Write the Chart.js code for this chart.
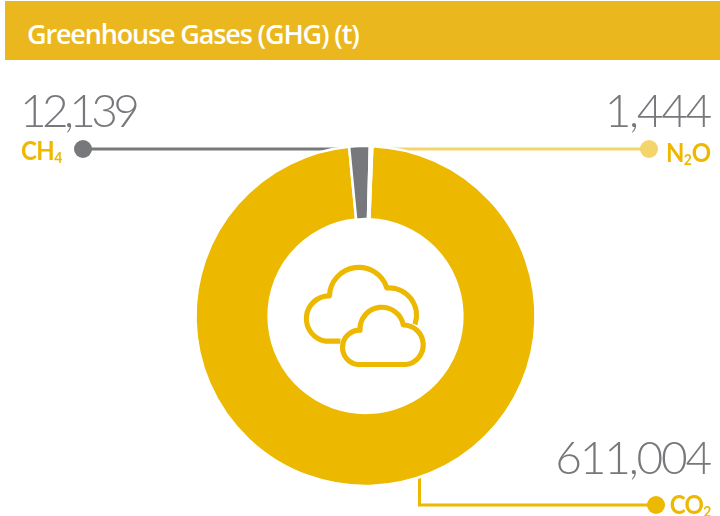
<!DOCTYPE html>
<html><head><meta charset="utf-8">
<script src="https://cdn.jsdelivr.net/npm/chart.js@4"></script>
<style>
html,body{margin:0;padding:0;background:#fff}
#wrap{position:relative;width:720px;height:516px;overflow:hidden;font-family:Lato,sans-serif}
#chart{position:absolute;left:0;top:0}
#bar{position:absolute;left:5px;top:1px;width:715px;height:59px;background:#ebb71e}
#title{position:absolute;left:27px;top:15px;color:#fff;font:600 27px/38px "Open Sans",sans-serif;letter-spacing:-1.15px;white-space:nowrap}
.num{position:absolute;color:#77787b;font:300 46px/50px Lato,sans-serif;white-space:nowrap}
.lab{position:absolute;color:#ecb800;font:700 26px/30px Lato,sans-serif;white-space:nowrap;letter-spacing:-.6px;transform:scaleX(.92);transform-origin:100% 50%}
.lab.l{transform-origin:0 50%}
.lab sub{font-size:15px;line-height:0;vertical-align:-3px;font-weight:700;letter-spacing:0}
svg{position:absolute;left:287px;top:246px}
</style></head><body>
<div id="wrap">
<div id="bar"></div><div id="title">Greenhouse Gases (GHG) (t)</div>
<canvas id="chart" width="720" height="516"></canvas>
<svg width="155" height="134" viewBox="0 0 450 390" fill="none" stroke="#ecb800" stroke-width="15" stroke-linejoin="round">
<path d="M155 277 H112 A66.4 66.4 0 0 1 123 145 A85.5 85.5 0 0 1 290 122 A80 80 0 0 1 372 228"/>
<path d="M345 345 H205 A50.2 50.2 0 0 1 212 245 A63.6 63.6 0 0 1 338 230 A57.7 57.7 0 0 1 345 345 Z"/>
</svg>
<div class="num" id="n0" style="right:10px;top:432px;letter-spacing:-2.2px"></div>
<div class="num" id="n1" style="left:20px;top:85px;letter-spacing:-4.7px"></div>
<div class="num" id="n2" style="right:10px;top:85px;letter-spacing:-2.3px"></div>
<div class="lab" style="right:9px;top:489px">CO<sub>2</sub></div>
<div class="lab l" style="left:21px;top:135px">CH<sub>4</sub></div>
<div class="lab" style="right:9px;top:137px">N<sub>2</sub>O</div>
</div>
<script>
const categories = ['CO2', 'CH4', 'N2O'];
const values = [611004, 12139, 1444];
const colors = ['#ecb800', '#77787b', '#f3d56b'];
values.forEach((v, i) => {
  document.getElementById('n' + i).textContent = v.toLocaleString('en-US');
});
const leaders = {
  id: 'leaders',
  beforeDatasetsDraw(chart) {
    const c = chart.ctx;
    const seg = (pts, col, dot) => {
      c.save();
      c.strokeStyle = col; c.fillStyle = col; c.lineWidth = 3;
      c.beginPath();
      pts.forEach((p, i) => i ? c.lineTo(p[0], p[1]) : c.moveTo(p[0], p[1]));
      c.stroke();
      c.beginPath(); c.arc(dot[0], dot[1], 9, 0, Math.PI * 2); c.fill();
      c.restore();
    };
    seg([[83, 149], [350, 149]], colors[1], [83, 149]);
    seg([[372, 149], [649, 149]], colors[2], [649, 149]);
    seg([[419.5, 478], [419.5, 505], [656, 505]], colors[0], [656, 505]);
  }
};
new Chart(document.getElementById('chart'), {
  type: 'doughnut',
  plugins: [leaders],
  data: { labels: categories, datasets: [{
    data: values, backgroundColor: colors, borderColor: '#fff', borderWidth: 2.5, borderAlign: 'center'
  }]},
  options: {
    responsive: false, animation: false,
    rotation: 2.3, radius: 170, cutout: '57%',
    layout: { padding: { left: 11, top: 116 } },
    plugins: { legend: { display: false }, tooltip: { enabled: false } }
  }
});
</script>
</body></html>
